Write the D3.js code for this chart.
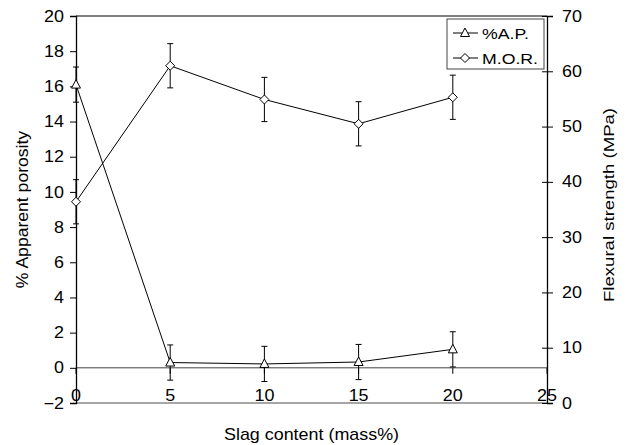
<!DOCTYPE html>
<html>
<head>
<meta charset="utf-8">
<script src="https://cdn.jsdelivr.net/npm/d3@7"></script>
<style>
  body { margin: 0; background: #fff; }
  svg { display: block; font-family: Arial, "Liberation Sans", sans-serif; }
</style>
</head>
<body>
<div id="chart"></div>
<script>
// slag content (mass%)
const slag = [0, 5, 10, 15, 20];
// % apparent porosity and its error
const apValues = [16.1, 0.3, 0.22, 0.33, 1.05];
const apErr = [1.0, 1.0, 1.0, 1.0, 1.0];
// flexural strength (MPa) and its error
const morValues = [36.4, 61.0, 54.9, 50.5, 55.3];
const morErr = [4.0, 4.0, 4.0, 4.0, 4.0];

const xTicks = [0, 5, 10, 15, 20, 25];
const leftTicks = [-2, 0, 2, 4, 6, 8, 10, 12, 14, 16, 18, 20];
const rightTicks = [0, 10, 20, 30, 40, 50, 60, 70];

const W = 627, H = 445;
const margin = { top: 16, right: 80, bottom: 42, left: 76 };
const width = W - margin.left - margin.right;
const height = H - margin.top - margin.bottom;
const FONT = "Arial, 'Liberation Sans', sans-serif";

const svg = d3.select("#chart").append("svg")
    .attr("width", W)
    .attr("height", H);

const g = svg.append("g")
    .attr("transform", `translate(${margin.left},${margin.top})`);

const x = d3.scaleLinear().domain([0, 25]).range([0, width]);
const yL = d3.scaleLinear().domain([-2, 20]).range([height, 0]);
const yR = d3.scaleLinear().domain([0, 70]).range([height, 0]);

// text in the original is a bit wider than Arial, stretch it along the baseline
function widen(sel, k) {
    sel.each(function() {
        const t = d3.select(this);
        const x0 = +t.attr("x") || 0;
        t.attr("x", x0 / k).attr("transform", `scale(${k},1)`);
    });
}

// plot border top and bottom
g.append("line")
    .attr("x1", 0).attr("x2", width).attr("y1", 0).attr("y2", 0)
    .attr("stroke", "#555").attr("stroke-width", 1.3);
g.append("line")
    .attr("x1", 0).attr("x2", width).attr("y1", height).attr("y2", height)
    .attr("stroke", "#888").attr("stroke-width", 1.3);

// x axis drawn at y = 0
g.append("line")
    .attr("x1", 0).attr("x2", width).attr("y1", yL(0)).attr("y2", yL(0))
    .attr("stroke", "#444").attr("stroke-width", 1);
g.selectAll(".xtick")
    .data(xTicks)
    .enter().append("line")
    .attr("x1", d => x(d)).attr("x2", d => x(d))
    .attr("y1", yL(0)).attr("y2", yL(0) + 6)
    .attr("stroke", "#000");
const xLabels = g.selectAll(".xlabel")
    .data(xTicks)
    .enter().append("g")
    .attr("transform", d => `translate(${x(d)},${height - 2})`)
    .append("text")
    .attr("text-anchor", "middle")
    .attr("font-size", 16)
    .text(d => d);
widen(xLabels, 1.12);

// left axis
const leftAxis = g.append("g")
    .call(d3.axisLeft(yL).tickValues(leftTicks).tickSize(6).tickPadding(6));
leftAxis.select(".domain").attr("stroke", "#000").attr("stroke-width", 1.3);
leftAxis.selectAll("text").attr("font-size", 16).attr("font-family", FONT).call(widen, 1.12);

// right axis, ticks crossing the line
const rightAxis = g.append("g")
    .attr("transform", `translate(${width},0)`)
    .call(d3.axisRight(yR).tickValues(rightTicks).tickSize(6).tickPadding(9));
rightAxis.select(".domain").attr("stroke", "#000").attr("stroke-width", 1.3);
rightAxis.selectAll(".tick line").attr("x1", -5);
rightAxis.selectAll("text").attr("font-size", 16).attr("font-family", FONT).call(widen, 1.12);

// axis titles
svg.append("text")
    .attr("transform", `translate(${margin.left + width / 2},440) scale(1.12,1)`)
    .attr("text-anchor", "middle")
    .attr("font-size", 16)
    .text("Slag content (mass%)");

svg.append("text")
    .attr("transform", `translate(28,${margin.top + height / 2}) rotate(-90) scale(1.1,1)`)
    .attr("text-anchor", "middle")
    .attr("font-size", 16)
    .text("% Apparent porosity");

svg.append("text")
    .attr("transform", `translate(614,205) rotate(-90) scale(1.24,1)`)
    .attr("text-anchor", "middle")
    .attr("font-size", 15)
    .text("Flexural strength (MPa)");

const ap = slag.map((s, i) => ({ x: s, v: apValues[i], e: apErr[i] }));
const mor = slag.map((s, i) => ({ x: s, v: morValues[i], e: morErr[i] }));

function errorBars(data, y) {
    const eg = g.append("g").attr("stroke", "#000").attr("stroke-width", 1);
    eg.selectAll(".v").data(data).enter().append("line")
        .attr("x1", d => x(d.x)).attr("x2", d => x(d.x))
        .attr("y1", d => y(d.v - d.e)).attr("y2", d => y(d.v + d.e));
    eg.selectAll(".t").data(data).enter().append("line")
        .attr("x1", d => x(d.x) - 3).attr("x2", d => x(d.x) + 3)
        .attr("y1", d => y(d.v + d.e)).attr("y2", d => y(d.v + d.e));
    eg.selectAll(".b").data(data).enter().append("line")
        .attr("x1", d => x(d.x) - 3).attr("x2", d => x(d.x) + 3)
        .attr("y1", d => y(d.v - d.e)).attr("y2", d => y(d.v - d.e));
}

errorBars(ap, yL);
errorBars(mor, yR);

g.append("path")
    .datum(ap)
    .attr("fill", "none").attr("stroke", "#000").attr("stroke-width", 1)
    .attr("d", d3.line().x(d => x(d.x)).y(d => yL(d.v)));
g.append("path")
    .datum(mor)
    .attr("fill", "none").attr("stroke", "#000").attr("stroke-width", 1)
    .attr("d", d3.line().x(d => x(d.x)).y(d => yR(d.v)));

const triangle = "M0,-5L4.5,3.5L-4.5,3.5Z";
const diamond = "M0,-4.5L4.5,0L0,4.5L-4.5,0Z";

g.selectAll(".tri").data(ap).enter().append("path")
    .attr("d", triangle)
    .attr("transform", d => `translate(${x(d.x)},${yL(d.v)})`)
    .attr("fill", "#fff").attr("stroke", "#000").attr("stroke-width", 1);
g.selectAll(".dia").data(mor).enter().append("path")
    .attr("d", diamond)
    .attr("transform", d => `translate(${x(d.x)},${yR(d.v)})`)
    .attr("fill", "#fff").attr("stroke", "#000").attr("stroke-width", 1);

// legend
const legend = svg.append("g").attr("transform", "translate(447,19)");
legend.append("rect")
    .attr("width", 97).attr("height", 50)
    .attr("fill", "#fff").attr("stroke", "#444").attr("stroke-width", 1);
const items = [
    { label: "%A.P.", shape: triangle },
    { label: "M.O.R.", shape: diamond }
];
const rows = legend.selectAll(".item").data(items).enter().append("g")
    .attr("transform", (d, i) => `translate(0,${14 + i * 25})`);
rows.append("line")
    .attr("x1", 6).attr("x2", 31).attr("stroke", "#000");
rows.append("path")
    .attr("d", d => d.shape)
    .attr("transform", "translate(18,0)")
    .attr("fill", "#fff").attr("stroke", "#000");
rows.append("g")
    .attr("transform", "translate(35,5.5) scale(1.18,1)")
    .append("text")
    .attr("font-size", 15)
    .text(d => d.label);
</script>
</body>
</html>
